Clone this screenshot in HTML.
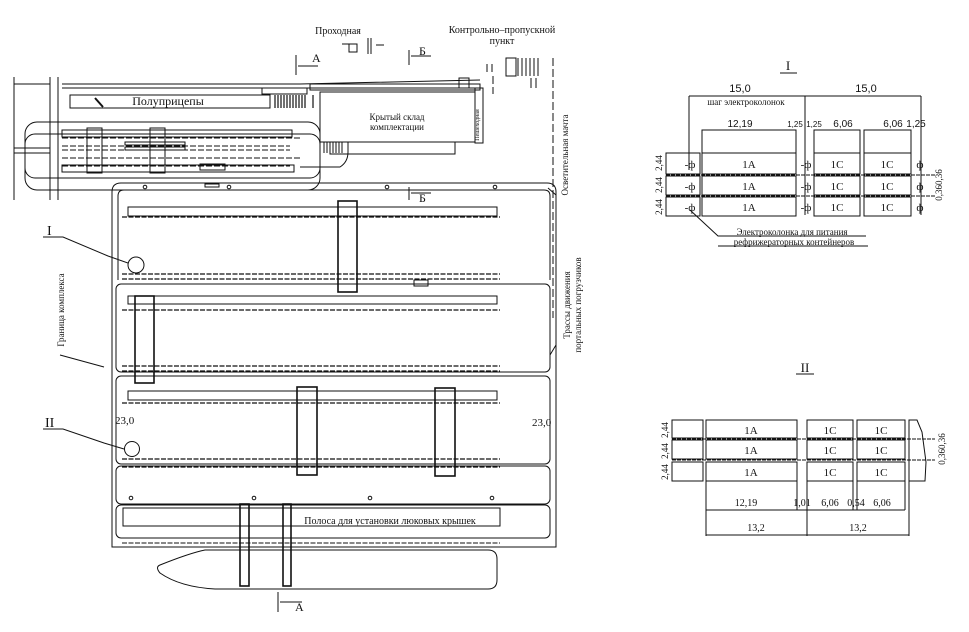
<!DOCTYPE html>
<html><head><meta charset="utf-8"><style>
html,body{margin:0;padding:0;background:#fff}
svg{display:block}
text{font-family:"Liberation Serif",serif;fill:#111}
.s{font-family:"Liberation Sans",sans-serif}
</style></head><body>
<svg width="969" height="632" viewBox="0 0 969 632" xmlns="http://www.w3.org/2000/svg" fill="none" stroke="#111" stroke-width="1">
<!-- ===== top rail area ===== -->
<line x1="14" y1="77" x2="14" y2="200"/>
<line x1="50" y1="77" x2="50" y2="200"/>
<line x1="58" y1="77" x2="58" y2="200"/>
<line x1="14" y1="84" x2="50" y2="84"/>
<line x1="62" y1="84" x2="300" y2="84"/>
<line x1="62" y1="88" x2="300" y2="88"/>
<path d="M300 84 L480 80 M300 88 L480 88"/>
<rect x="70" y="95" width="200" height="13"/>
<line x1="95" y1="98" x2="103" y2="107" stroke-width="2"/>
<text x="168" y="105" font-size="12" text-anchor="middle" stroke="none">Полуприцепы</text>
<g stroke-width="1.2">
<path d="M275 95v13M278 95v13M281 95v13M284 95v13M287 95v13M290 95v13M293 95v13M296 95v13M299 95v13M302 95v13M305 95v13"/>
<path d="M313 95v13"/>
</g>
<rect x="262" y="88" width="45" height="6"/>
<rect x="310" y="84" width="170" height="6"/>
<rect x="459" y="78" width="10" height="10"/>
<!-- building -->
<rect x="320" y="92" width="155" height="50"/>
<rect x="475" y="88" width="8" height="55"/>
<rect x="330" y="142" width="125" height="12"/>
<path d="M324 142v11M327 142v11M330 142v11M333 142v11M336 142v11M339 142v11M342 142v11"/>
<path d="M348 142v10 q0 10 -8 15 h-40"/>
<text x="397" y="120" font-size="9" text-anchor="middle" stroke="none">Крытый склад</text>
<text x="397" y="130" font-size="9" text-anchor="middle" stroke="none">комплектации</text>
<text x="479" y="125" font-size="6" stroke="none" transform="rotate(-90 479 125)" text-anchor="middle">Пешеходная</text>
<!-- checkpoint -->
<rect x="506" y="58" width="10" height="18"/>
<path d="M518 58v18M522 58v18M526 58v18M530 58v18M534 58v18M538 58v18"/>
<path d="M493 76v18M553 58v260" stroke-dasharray="8 3"/>
<path d="M487 64v8M492 64v8M531 78v10M536 78v10"/>
<text x="338" y="34" font-size="10" text-anchor="middle" stroke="none">Проходная</text>
<text x="502" y="33" font-size="10" text-anchor="middle" stroke="none">Контрольно–пропускной</text>
<text x="502" y="44" font-size="10" text-anchor="middle" stroke="none">пункт</text>
<rect x="349" y="44" width="8" height="8"/>
<path d="M342 44h7M368 38v16M371 38v16M376 45h8"/>
<path d="M296 55v20M298 66h20M409 50v15M411 56h20"/>
<text x="312" y="62" font-size="12" stroke="none">A</text>
<text x="419" y="55" font-size="12" stroke="none">Б</text>
<!-- left loop -->
<rect x="25" y="122" width="295" height="68" rx="12"/>
<rect x="25" y="134" width="295" height="44" rx="10"/>
<g stroke-dasharray="6 2">
<line x1="62" y1="130" x2="290" y2="130"/><line x1="62" y1="138" x2="300" y2="138"/>
<line x1="62" y1="146" x2="290" y2="146"/><line x1="62" y1="150" x2="290" y2="150"/>
<line x1="62" y1="158" x2="300" y2="158"/><line x1="62" y1="166" x2="290" y2="166"/>
</g>
<rect x="62" y="130" width="230" height="7"/>
<rect x="62" y="165" width="232" height="7"/>
<rect x="87" y="128" width="15" height="45"/>
<rect x="150" y="128" width="15" height="45"/>
<rect x="125" y="142" width="60" height="3"/><rect x="125" y="147" width="60" height="3"/>
<rect x="200" y="164" width="25" height="6"/>
<line x1="14" y1="148" x2="50" y2="148"/><line x1="14" y1="153" x2="50" y2="153"/>
<!-- ===== main yard ===== -->
<path d="M112 547 V192 q0 -9 9 -9 H547 q9 0 9 9 V547 Z"/>
<path d="M118 280 V196 q0 -6 6 -6 H544 q6 0 6 6 V280"/>
<circle cx="145" cy="187" r="1.8"/><circle cx="229" cy="187" r="1.8"/><circle cx="387" cy="187" r="1.8"/><circle cx="495" cy="187" r="1.8"/>
<rect x="205" y="184" width="14" height="3"/>
<path d="M409 187v13M411 193h20"/>
<text x="419" y="202" font-size="12" stroke="none">Б</text>
<!-- block 1 -->
<rect x="128" y="207" width="369" height="9"/>
<g stroke-dasharray="5 1.5" stroke-width="1.3">
<line x1="122" y1="217" x2="500" y2="217"/><line x1="122" y1="274" x2="500" y2="274"/>
<line x1="122" y1="279" x2="500" y2="279"/>
</g>
<rect x="116" y="284" width="434" height="88" rx="5"/>
<rect x="128" y="296" width="369" height="8"/>
<g stroke-dasharray="5 1.5" stroke-width="1.3">
<line x1="122" y1="310" x2="500" y2="310"/><line x1="122" y1="366" x2="500" y2="366"/>
<line x1="122" y1="371" x2="500" y2="371"/>
</g>
<rect x="116" y="376" width="434" height="88" rx="5"/>
<rect x="128" y="391" width="369" height="9"/>
<g stroke-dasharray="5 1.5" stroke-width="1.3">
<line x1="122" y1="403" x2="500" y2="403"/><line x1="122" y1="459" x2="500" y2="459"/>
<line x1="122" y1="467" x2="500" y2="467"/>
</g>
<rect x="116" y="466" width="434" height="38" rx="5"/>
<circle cx="131" cy="498" r="1.8"/><circle cx="254" cy="498" r="1.8"/><circle cx="370" cy="498" r="1.8"/><circle cx="492" cy="498" r="1.8"/>
<rect x="123" y="508" width="377" height="18"/>
<rect x="116" y="505" width="434" height="33" rx="5"/>
<line x1="122" y1="543" x2="500" y2="543" stroke-dasharray="5 1.5"/>
<text x="390" y="524" font-size="10" text-anchor="middle" stroke="none">Полоса для установки люковых крышек</text>
<!-- gantries -->
<g stroke-width="1.6">
<rect x="338" y="201" width="19" height="91"/>
<rect x="135" y="296" width="19" height="87"/>
<rect x="297" y="387" width="20" height="88"/>
<rect x="435" y="388" width="20" height="88"/>
<rect x="240" y="504" width="9" height="82"/>
<rect x="283" y="504" width="8" height="82"/>
</g>
<rect x="414" y="280" width="14" height="6"/>
<!-- ship -->
<path d="M205 550 H488 q9 0 9 9 V580 q0 9 -9 9 H215 Q180 587 160 573 Q155 567 160 565 Q190 553 205 550 Z"/>
<path d="M278 592v20M280 602h22"/>
<text x="295" y="611" font-size="12" stroke="none">A</text>
<!-- callouts -->
<circle cx="136" cy="265" r="8"/>
<circle cx="132" cy="449" r="7.5"/>
<path d="M43 237h20 L108 256 128 263"/>
<text x="47" y="235" font-size="14" stroke="none">I</text>
<path d="M43 429h20 L104 443 124 449"/>
<text x="45" y="427" font-size="14" stroke="none">II</text>
<path d="M60 355 L104 367"/>
<text x="64" y="310" font-size="9" stroke="none" transform="rotate(-90 64 310)" text-anchor="middle">Граница комплекса</text>
<text x="115" y="424" font-size="11" stroke="none">23,0</text>
<text x="532" y="426" font-size="11" stroke="none">23,0</text>
<text x="568" y="155" font-size="9" stroke="none" transform="rotate(-90 568 155)" text-anchor="middle">Осветительная мачта</text>
<text x="570" y="305" font-size="9" stroke="none" transform="rotate(-90 570 305)" text-anchor="middle">Трассы движения</text>
<text x="581" y="305" font-size="9" stroke="none" transform="rotate(-90 581 305)" text-anchor="middle">портальных погрузчиков</text>
<path d="M556 195 L548 188M556 345 L550 355"/>

<!-- ===== Detail I ===== -->
<text x="788" y="70" font-size="13" stroke="none" text-anchor="middle">I</text>
<line x1="780" y1="73" x2="797" y2="73"/>
<path d="M689 96 H921 M689 96 V170 M805 96 V215 M921 96 V215"/>
<text x="740" y="92" font-size="11" class="s" stroke="none" text-anchor="middle">15,0</text>
<text x="866" y="92" font-size="11" class="s" stroke="none" text-anchor="middle">15,0</text>
<text x="746" y="105" font-size="9" stroke="none" text-anchor="middle">шаг электроколонок</text>
<text x="740" y="127" font-size="10" class="s" stroke="none" text-anchor="middle">12,19</text>
<text x="795" y="127" font-size="8" class="s" stroke="none" text-anchor="middle">1,25</text>
<text x="814" y="127" font-size="8" class="s" stroke="none" text-anchor="middle">1,25</text>
<text x="843" y="127" font-size="10" class="s" stroke="none" text-anchor="middle">6,06</text>
<text x="893" y="127" font-size="10" class="s" stroke="none" text-anchor="middle">6,06</text>
<text x="916" y="127" font-size="10" class="s" stroke="none" text-anchor="middle">1,25</text>
<path d="M702 130 H796 M814 130 H860 M864 130 H911"/>
<rect x="702" y="130" width="94" height="23"/>
<rect x="814" y="130" width="46" height="23"/>
<rect x="864" y="130" width="47" height="23"/>
<g>
<rect x="702" y="153" width="94" height="21"/><rect x="702" y="176" width="94" height="19"/><rect x="702" y="197" width="94" height="19"/>
<rect x="814" y="153" width="46" height="21"/><rect x="814" y="176" width="46" height="19"/><rect x="814" y="197" width="46" height="19"/>
<rect x="864" y="153" width="47" height="21"/><rect x="864" y="176" width="47" height="19"/><rect x="864" y="197" width="47" height="19"/>
<rect x="666" y="153" width="34" height="21"/><rect x="666" y="176" width="34" height="19"/><rect x="666" y="197" width="34" height="19"/>
</g>
<path d="M666 175 H935 M666 196 H935" stroke-dasharray="4 1"/>
<g font-size="11" stroke="none" text-anchor="middle">
<text x="749" y="168">1A</text><text x="749" y="190">1A</text><text x="749" y="211">1A</text>
<text x="837" y="168">1C</text><text x="837" y="190">1C</text><text x="837" y="211">1C</text>
<text x="887" y="168">1C</text><text x="887" y="190">1C</text><text x="887" y="211">1C</text>
<text x="690" y="168">-ф</text><text x="690" y="190">-ф</text><text x="690" y="211">-ф</text>
<text x="806" y="168">-ф</text><text x="806" y="190">-ф</text><text x="806" y="211">-ф</text>
<text x="920" y="168">ф</text><text x="920" y="190">ф</text><text x="920" y="211">ф</text>
</g>
<g font-size="9" class="s" stroke="none" text-anchor="middle">
<text x="662" y="163" transform="rotate(-90 662 163)">2,44</text>
<text x="662" y="185" transform="rotate(-90 662 185)">2,44</text>
<text x="662" y="207" transform="rotate(-90 662 207)">2,44</text>
<text x="942" y="185" transform="rotate(-90 942 185)">0,360,36</text>
</g>
<path d="M690 210 L718 236 H866 M718 246 H868"/>
<text x="792" y="235" font-size="9" stroke="none" text-anchor="middle">Электроколонка для питания</text>
<text x="794" y="245" font-size="9" stroke="none" text-anchor="middle">рефрижераторных контейнеров</text>

<!-- ===== Detail II ===== -->
<text x="805" y="372" font-size="13" stroke="none" text-anchor="middle">II</text>
<line x1="796" y1="374" x2="814" y2="374"/>
<g>
<rect x="706" y="420" width="91" height="18"/><rect x="706" y="440" width="91" height="19"/><rect x="706" y="462" width="91" height="19"/>
<rect x="807" y="420" width="46" height="18"/><rect x="807" y="440" width="46" height="19"/><rect x="807" y="462" width="46" height="19"/>
<rect x="857" y="420" width="48" height="18"/><rect x="857" y="440" width="48" height="19"/><rect x="857" y="462" width="48" height="19"/>
<rect x="672" y="420" width="31" height="18"/><rect x="672" y="440" width="31" height="19"/><rect x="672" y="462" width="31" height="19"/>
</g>
<path d="M909 420 H917 L922 432 L926 462 L925 481 H909 Z"/>
<path d="M672 439 H935 M672 460 H935" stroke-dasharray="4 1"/>
<g font-size="11" stroke="none" text-anchor="middle">
<text x="751" y="434">1A</text><text x="751" y="454">1A</text><text x="751" y="476">1A</text>
<text x="830" y="434">1C</text><text x="830" y="454">1C</text><text x="830" y="476">1C</text>
<text x="881" y="434">1C</text><text x="881" y="454">1C</text><text x="881" y="476">1C</text>
</g>
<g font-size="9" class="s" stroke="none" text-anchor="middle">
<text x="668" y="430" transform="rotate(-90 668 430)">2,44</text>
<text x="668" y="451" transform="rotate(-90 668 451)">2,44</text>
<text x="668" y="472" transform="rotate(-90 668 472)">2,44</text>
<text x="945" y="449" transform="rotate(-90 945 449)">0,360,36</text>
</g>
<path d="M706 481 V536 M807 481 V536 M909 481 V536 M797 481 V510 M857 481 V510 M905 481 V510 M853 481 V510"/>
<path d="M706 510 H905 M706 535 H909"/>
<g font-size="10" class="s" stroke="none" text-anchor="middle">
<text x="746" y="506">12,19</text>
<text x="802" y="506">1,01</text>
<text x="830" y="506">6,06</text>
<text x="856" y="506">0,54</text>
<text x="882" y="506">6,06</text>
<text x="756" y="531">13,2</text>
<text x="858" y="531">13,2</text>
</g>
</svg>
</body></html>
